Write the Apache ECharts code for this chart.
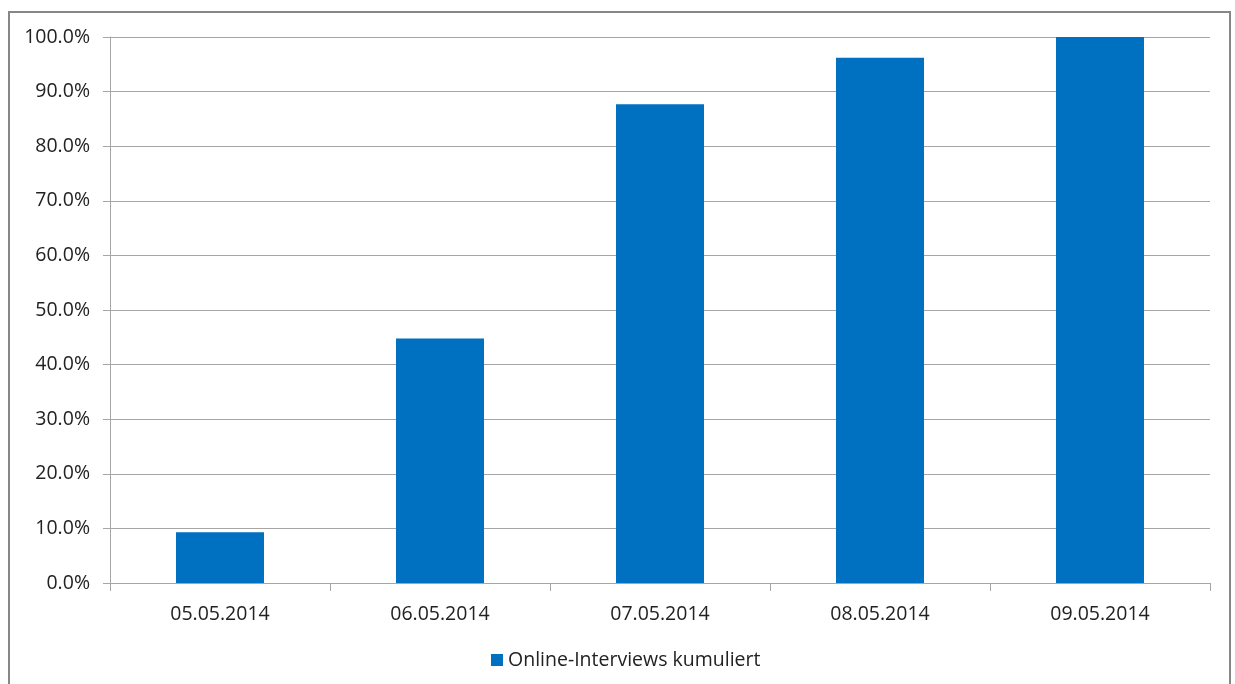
<!DOCTYPE html>
<html>
<head>
<meta charset="utf-8">
<script src="https://cdn.jsdelivr.net/npm/echarts@6/dist/echarts.min.js"></script>
<style>
  html, body { margin: 0; padding: 0; background: #ffffff; }
  #chart { width: 1235px; height: 684px; }
</style>
</head>
<body>
<div id="chart"></div>
<script>
// Cumulative share of online interviews per field day
const categories = ['05.05.2014', '06.05.2014', '07.05.2014', '08.05.2014', '09.05.2014'];
const seriesName = 'Online-Interviews kumuliert';
const cumulativeShare = [9.3, 44.8, 87.7, 96.2, 100.0];
const yTicks = [0, 10, 20, 30, 40, 50, 60, 70, 80, 90, 100];

const FONT = '"Open Sans", "Liberation Sans", sans-serif';
const FONT_SIZE = 19.5;
const TEXT = '#222222';
const LINE = '#a6a6a6';

const chart = echarts.init(document.getElementById('chart'), null, { renderer: 'canvas' });

chart.setOption({
  animation: false,
  backgroundColor: '#ffffff',
  graphic: [{
    type: 'rect',
    shape: { x: 9, y: 12, width: 1221, height: 720 },
    style: { fill: null, stroke: '#878787', lineWidth: 2 },
    silent: true
  }],
  grid: { left: 110, right: 25, top: 37, bottom: 101, containLabel: false },
  legend: {
    data: [seriesName],
    bottom: 14,
    left: 491,
    padding: 0,
    itemWidth: 12,
    itemHeight: 12,
    itemGap: 6,
    icon: 'rect',
    textStyle: { fontFamily: FONT, fontSize: FONT_SIZE, color: TEXT }
  },
  xAxis: {
    type: 'category',
    data: categories,
    boundaryGap: true,
    axisLine: { show: true, lineStyle: { color: LINE, width: 1 } },
    axisTick: { show: true, length: 8, alignWithLabel: false, lineStyle: { color: LINE } },
    axisLabel: { fontFamily: FONT, fontSize: FONT_SIZE, color: TEXT, margin: 21 }
  },
  yAxis: {
    type: 'value',
    min: yTicks[0],
    max: yTicks[yTicks.length - 1],
    interval: 10,
    axisLine: { show: true, lineStyle: { color: LINE, width: 1 } },
    axisTick: { show: true, length: 7, inside: false, lineStyle: { color: LINE } },
    splitLine: { show: true, lineStyle: { color: LINE, width: 1 } },
    axisLabel: {
      fontFamily: FONT, fontSize: FONT_SIZE, color: TEXT, margin: 20,
      formatter: v => v.toFixed(1) + '%'
    }
  },
  series: [{
    name: seriesName,
    type: 'bar',
    data: cumulativeShare,
    barWidth: '40%',
    itemStyle: { color: '#0070c0' }
  }]
});
</script>
</body>
</html>
